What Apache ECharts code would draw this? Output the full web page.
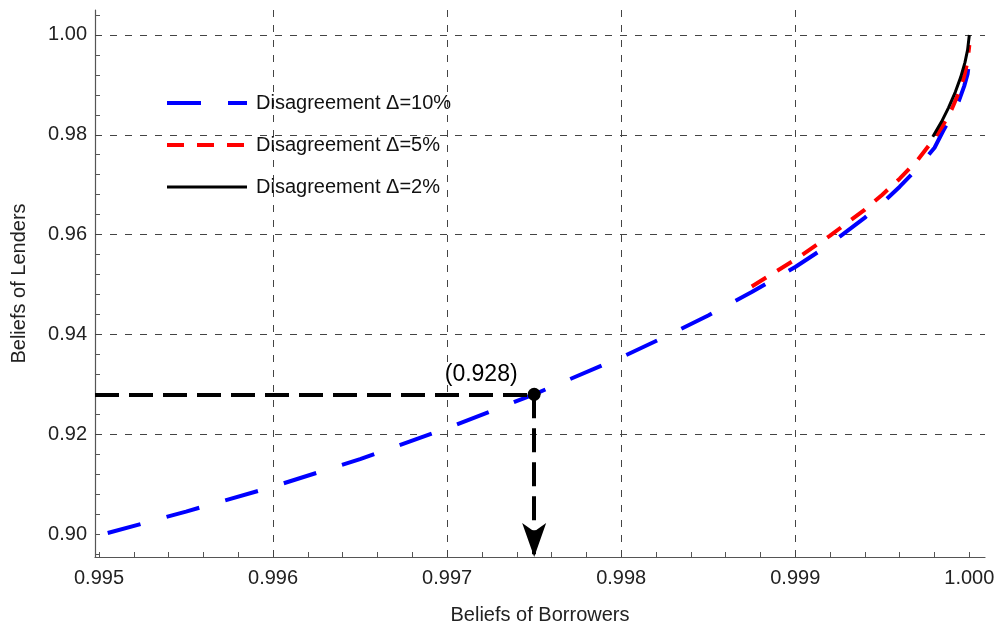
<!DOCTYPE html>
<html>
<head>
<meta charset="utf-8">
<script src="https://cdn.jsdelivr.net/npm/echarts@6/dist/echarts.min.js"></script>
<style>
html,body{margin:0;padding:0;background:#fff;}
#chart{width:997px;height:626px;}
</style>
</head>
<body>
<div id="chart"></div>
<script>
// ---- data ----
const blueX = [0.99505, 0.9955, 0.9960, 0.9965, 0.9970, 0.9975, 0.9980, 0.99825, 0.9985, 0.99875, 0.9990, 0.9992, 0.9994, 0.9995, 0.9996, 0.9997, 0.9998, 0.99985, 0.9999, 0.99994, 0.99997, 0.99999, 1.0];
const blueY = [0.9002, 0.9045, 0.9095, 0.9150, 0.9212, 0.9280, 0.9354, 0.9395, 0.9438, 0.9485, 0.9535, 0.9581, 0.9634, 0.9663, 0.9696, 0.9732, 0.9774, 0.9808, 0.9840, 0.9868, 0.9897, 0.9922, 0.9950];
const redX = [0.99875, 0.9990, 0.9992, 0.9994, 0.9995, 0.9996, 0.9997, 0.9998, 0.99985, 0.9999, 0.99994, 0.99997, 0.99999, 1.0];
const redY = [0.9496, 0.9550, 0.9598, 0.9650, 0.9680, 0.9712, 0.9748, 0.9793, 0.9820, 0.9852, 0.9885, 0.9917, 0.9948, 0.9980];
const blackX = [0.99979, 0.99984, 0.99988, 0.99992, 0.99995, 0.999975, 0.99999, 1.0];
const blackY = [0.9796, 0.9826, 0.9854, 0.9886, 0.9915, 0.9945, 0.9970, 1.0000];
const highlightPoint = [0.9975, 0.928];
const seriesNames = ['Disagreement Δ=10%', 'Disagreement Δ=5%', 'Disagreement Δ=2%'];
const xTickLabels = [0.995, 0.996, 0.997, 0.998, 0.999, 1.000];
const yTickLabels = [0.90, 0.92, 0.94, 0.96, 0.98, 1.00];
const xMinorTicks = [];
for (let i = 0; i <= 25; i++) xMinorTicks.push(+(0.995 + i * 0.0002).toFixed(4));
const yMinorTicks = [];
for (let i = 0; i <= 27; i++) yMinorTicks.push(+(0.896 + i * 0.004).toFixed(3));
const xGridLines = [0.996, 0.997, 0.998, 0.999];
const yGridLines = [0.92, 0.94, 0.96, 0.98, 1.00];
const X_MIN = 0.994977, X_MAX = 1.00009, Y_MIN = 0.8954, Y_MAX = 1.005;

const zip = (a, b) => a.map((v, i) => [v, b[i]]);
const FONT = 'Liberation Sans, Arial, sans-serif';

const chart = echarts.init(document.getElementById('chart'));
const axisCommon = {
  type: 'value',
  axisLine: { show: true, lineStyle: { color: '#555', width: 1.2 } },
  splitLine: { show: false },
};
const gridLineData = xGridLines.map(v => [{ coord: [v, Y_MIN] }, { coord: [v, Y_MAX] }])
  .concat(yGridLines.map(v => [{ coord: [X_MIN, v] }, { coord: [X_MAX, v] }]));

chart.setOption({
  animation: false,
  backgroundColor: '#fff',
  grid: { left: 95, right: 12, top: 10, bottom: 69, containLabel: false, outerBoundsMode: 'none' },
  legend: {
    left: 165, top: 93, orient: 'vertical', padding: 0,
    itemWidth: 80, itemHeight: 14, itemGap: 22,
    itemStyle: { opacity: 0 },
    data: [
      { name: seriesNames[0], lineStyle: { width: 4 } },
      { name: seriesNames[1], lineStyle: { width: 4 } },
      { name: seriesNames[2], lineStyle: { width: 3 } },
    ],
    textStyle: { fontFamily: FONT, fontSize: 20, color: '#111', padding: [0, 0, 0, 4] },
  },
  xAxis: Object.assign({}, axisCommon, {
    min: X_MIN, max: X_MAX,
    name: 'Beliefs of Borrowers', nameLocation: 'middle', nameGap: 48,
    nameTextStyle: { fontFamily: FONT, fontSize: 20, color: '#222' },
    axisTick: { show: true, inside: true, length: 5, customValues: xMinorTicks, lineStyle: { color: '#555' } },
    axisLabel: { customValues: xTickLabels, formatter: v => v.toFixed(3), fontFamily: FONT, fontSize: 20, color: '#222', margin: 11 },
  }),
  yAxis: Object.assign({}, axisCommon, {
    min: Y_MIN, max: Y_MAX,
    name: 'Beliefs of Lenders', nameLocation: 'middle', nameGap: 66, nameRotate: 90,
    nameTextStyle: { fontFamily: FONT, fontSize: 20, color: '#222' },
    axisTick: { show: true, inside: true, length: 5, customValues: yMinorTicks, lineStyle: { color: '#555' } },
    axisLabel: { customValues: yTickLabels, formatter: v => v.toFixed(2), fontFamily: FONT, fontSize: 20, color: '#222', margin: 8 },
  }),
  series: [
    {
      name: seriesNames[0], type: 'line', data: zip(blueX, blueY), symbol: 'none',
      smooth: false, z: 3,
      lineStyle: { color: '#0000ff', width: 4, type: [34, 27] }, itemStyle: { color: '#0000ff' },
      markLine: {
        silent: true, symbol: 'none', label: { show: false }, animation: false, z: 1,
        lineStyle: { type: [7, 8], color: '#444', width: 1 },
        data: gridLineData,
      },
    },
    {
      name: seriesNames[1], type: 'line', data: zip(redX, redY), symbol: 'none',
      smooth: false, z: 4,
      lineStyle: { color: '#ff0000', width: 4, type: [17, 13] }, itemStyle: { color: '#ff0000' },
    },
    {
      name: seriesNames[2], type: 'line', data: zip(blackX, blackY), symbol: 'none',
      smooth: false, z: 5,
      lineStyle: { color: '#000', width: 3, type: 'solid' }, itemStyle: { color: '#000' },
    },
    {
      name: 'highlight', type: 'scatter', data: [highlightPoint], symbolSize: 13, z: 7,
      itemStyle: { color: '#000', opacity: 1 },
      label: {
        show: true, position: 'top', distance: 2, offset: [-53, 0],
        formatter: p => '(' + p.value[1].toFixed(3) + ')',
        fontFamily: FONT, fontSize: 23, color: '#000',
      },
      markLine: {
        silent: true, animation: false, label: { show: false }, z: 6,
        symbol: ['none', 'arrow'], symbolSize: [18, 34],
        lineStyle: { color: '#000', width: 4, type: [24, 10], opacity: 1 },
        data: [
          [{ coord: [X_MIN, highlightPoint[1]], symbol: 'none' }, { coord: highlightPoint, symbol: 'none' }],
          [{ coord: highlightPoint, symbol: 'none' }, { coord: [highlightPoint[0], Y_MIN], symbol: 'arrow' }],
        ],
      },
    },
  ],
});
</script>
</body>
</html>
